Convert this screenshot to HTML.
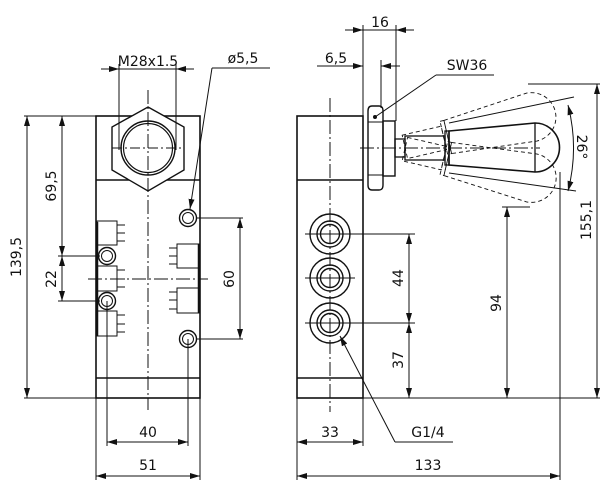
<!DOCTYPE html>
<html><head><meta charset="utf-8"><style>
html,body{margin:0;padding:0;background:#fff;}
svg{display:block;}
text{font-family:"DejaVu Sans","Liberation Sans",sans-serif;font-size:14px;fill:#111;}
</style></head><body>
<svg width="600" height="487" viewBox="0 0 600 487" xmlns="http://www.w3.org/2000/svg">
<defs>
<marker id="a" viewBox="0 0 10 6" refX="10" refY="3" markerWidth="10" markerHeight="6" orient="auto-start-reverse" markerUnits="userSpaceOnUse"><path d="M0,0L10,3L0,6z" fill="#111"/></marker>
</defs>
<g fill="none" stroke="#111" stroke-width="1">
<!-- LEFT VIEW body -->
<rect x="96" y="116" width="104" height="282" stroke-width="1.6"/>
<line x1="96" y1="180" x2="200" y2="180" stroke-width="1.4"/>
<line x1="96" y1="378" x2="200" y2="378" stroke-width="1.4"/>
<polygon points="148,107 184,127 184,170 148,191 112,170 112,127" stroke-width="1.4" fill="#fff"/>
<circle cx="148" cy="148" r="27" stroke-width="1.4"/>
<circle cx="148" cy="148" r="24.5" stroke-width="1.2"/>
<line x1="148" y1="90" x2="148" y2="410" stroke-dasharray="14,3,2,3"/>
<line x1="112" y1="148" x2="184" y2="148" stroke-dasharray="10,3,2,3"/>
<line x1="88" y1="279" x2="208" y2="279" stroke-dasharray="14,3,2,3"/>
<!-- small rects left -->
<rect x="97" y="221" width="20" height="24"/><rect x="97" y="266" width="20" height="25"/><rect x="97" y="311" width="20" height="25"/>
<path d="M117,225h8M117,233h8M117,241h8M117,270h8M117,279h8M117,287h8M117,315h8M117,324h8M117,332h8"/>
<rect x="177" y="244" width="22" height="24"/><rect x="177" y="288" width="22" height="25"/>
<path d="M169,248h8M169,256h8M169,264h8M169,292h8M169,300h8M169,309h8"/>
<line x1="97" y1="222" x2="97" y2="336" stroke-width="2.5"/>
<line x1="199" y1="244" x2="199" y2="313" stroke-width="2.5"/>
<!-- holes -->
<circle cx="188" cy="218" r="8.5" stroke-width="1.4"/><circle cx="188" cy="218" r="5.5"/>
<circle cx="188" cy="339" r="8.5" stroke-width="1.4"/><circle cx="188" cy="339" r="5.5"/>
<circle cx="107" cy="256" r="8.5" stroke-width="1.4" fill="#fff"/><circle cx="107" cy="256" r="5.5"/>
<circle cx="107" cy="301" r="8.5" stroke-width="1.4" fill="#fff"/><circle cx="107" cy="301" r="5.5"/>
<!-- left dims -->
<line x1="24" y1="116" x2="96" y2="116"/><line x1="24" y1="398" x2="96" y2="398"/>
<line x1="27" y1="116" x2="27" y2="398" marker-start="url(#a)" marker-end="url(#a)"/>
<line x1="62" y1="116" x2="62" y2="256" marker-start="url(#a)" marker-end="url(#a)"/>
<line x1="62" y1="256" x2="62" y2="301" marker-start="url(#a)" marker-end="url(#a)"/>
<line x1="58" y1="256" x2="100" y2="256"/><line x1="58" y1="301" x2="100" y2="301"/>
<line x1="196" y1="218" x2="243" y2="218"/><line x1="196" y1="339" x2="243" y2="339"/>
<line x1="240" y1="218" x2="240" y2="339" marker-start="url(#a)" marker-end="url(#a)"/>
<line x1="119" y1="64" x2="119" y2="150"/><line x1="176" y1="64" x2="176" y2="150"/>
<line x1="101" y1="69" x2="119" y2="69" marker-end="url(#a)"/><line x1="194" y1="69" x2="176" y2="69" marker-end="url(#a)"/>
<line x1="119" y1="69" x2="176" y2="69"/>
<line x1="270" y1="68" x2="212" y2="68"/><line x1="212" y1="68" x2="190" y2="209" marker-end="url(#a)"/>
<line x1="107" y1="301" x2="107" y2="446"/><line x1="188" y1="339" x2="188" y2="446"/>
<line x1="107" y1="442" x2="188" y2="442" marker-start="url(#a)" marker-end="url(#a)"/>
<line x1="96" y1="398" x2="96" y2="480"/><line x1="200" y1="398" x2="200" y2="480"/>
<line x1="96" y1="476" x2="200" y2="476" marker-start="url(#a)" marker-end="url(#a)"/>

<!-- RIGHT VIEW body -->
<rect x="297" y="116" width="66" height="282" stroke-width="1.6"/>
<line x1="297" y1="180" x2="363" y2="180" stroke-width="1.4"/>
<line x1="297" y1="378" x2="363" y2="378" stroke-width="1.4"/>
<line x1="330" y1="98" x2="330" y2="412" stroke-dasharray="14,3,2,3"/>
<g stroke-width="1.4">
<circle cx="330" cy="234" r="20"/><circle cx="330" cy="234" r="13"/><circle cx="330" cy="234" r="9.5"/>
<circle cx="330" cy="278" r="20"/><circle cx="330" cy="278" r="13"/><circle cx="330" cy="278" r="9.5"/>
<circle cx="330" cy="323" r="20"/><circle cx="330" cy="323" r="13"/><circle cx="330" cy="323" r="9.5"/>
</g>
<path d="M305,234h50M305,278h50M305,323h50"/>
<!-- nut -->
<path d="M372,106h7q4,0 4,5v74q0,5 -4,5h-7q-4,0 -4,-5v-74q0,-5 4,-5z" stroke-width="1.4"/>
<path d="M368,122h15M368,175h15" />
<rect x="383" y="121" width="12" height="55" stroke-width="1.4"/>
<rect x="395" y="139" width="10" height="18" stroke-width="1.3"/>
<rect x="405" y="136" width="40" height="24" stroke-width="1.3"/>
<rect x="445" y="131" width="4" height="34" stroke-width="1.3"/>
<path d="M449,131L535,123A24.5,24.5 0 0 1 535,172L449,165z" stroke-width="1.6"/>
<line x1="535" y1="123" x2="535" y2="172" stroke-width="1.3"/>
<line x1="360" y1="148" x2="540" y2="148" stroke-dasharray="14,3,2,3"/>
<!-- dashed tilted handles -->
<g stroke-dasharray="4,3" stroke-width="0.9">
<g transform="rotate(-13 400 148)"><rect x="405" y="136" width="40" height="24"/><rect x="445" y="131" width="4" height="34"/><path d="M449,131L535,123A24.5,24.5 0 0 1 535,172L449,165z"/></g>
<g transform="rotate(13 400 148)"><rect x="405" y="136" width="40" height="24"/><rect x="445" y="131" width="4" height="34"/><path d="M449,131L535,123A24.5,24.5 0 0 1 535,172L449,165z"/></g>
</g>
<!-- 26 deg -->
<line x1="449" y1="123" x2="574" y2="97" transform="rotate(0)"/>
<line x1="449" y1="173" x2="576" y2="191"/>
<path d="M568,105A172,172 0 0 1 568,191" marker-start="url(#a)" marker-end="url(#a)"/>
<!-- right dims -->
<line x1="363" y1="25" x2="363" y2="116"/><line x1="396" y1="25" x2="396" y2="121"/>
<line x1="345" y1="30" x2="363" y2="30" marker-end="url(#a)"/><line x1="414" y1="30" x2="396" y2="30" marker-end="url(#a)"/><line x1="363" y1="30" x2="396" y2="30"/>
<line x1="381" y1="60" x2="381" y2="108"/>
<line x1="317" y1="66" x2="363" y2="66" marker-end="url(#a)"/><line x1="400" y1="66" x2="381" y2="66" marker-end="url(#a)"/>
<line x1="494" y1="75" x2="436" y2="75"/><line x1="436" y1="75" x2="375" y2="117"/>
<circle cx="375" cy="117" r="1.5" fill="#111"/>
<line x1="345" y1="234" x2="415" y2="234"/><line x1="345" y1="323" x2="415" y2="323"/>
<line x1="409" y1="234" x2="409" y2="323" marker-start="url(#a)" marker-end="url(#a)"/>
<line x1="409" y1="323" x2="409" y2="398" marker-start="url(#a)" marker-end="url(#a)"/>
<line x1="297" y1="398" x2="600" y2="398"/>
<line x1="502" y1="207" x2="530" y2="207"/>
<line x1="507" y1="207" x2="507" y2="398" marker-start="url(#a)" marker-end="url(#a)"/>
<line x1="528" y1="84" x2="600" y2="84"/>
<line x1="597" y1="84" x2="597" y2="398" marker-start="url(#a)" marker-end="url(#a)"/>
<line x1="297" y1="398" x2="297" y2="480"/><line x1="363" y1="398" x2="363" y2="446"/>
<line x1="297" y1="442" x2="363" y2="442" marker-start="url(#a)" marker-end="url(#a)"/>
<line x1="560" y1="172" x2="560" y2="480"/>
<line x1="297" y1="476" x2="560" y2="476" marker-start="url(#a)" marker-end="url(#a)"/>
<line x1="453" y1="442" x2="395" y2="442"/><line x1="395" y1="442" x2="340" y2="336" marker-end="url(#a)"/>
</g>
<!-- labels -->
<text x="148" y="66" text-anchor="middle">M28x1.5</text>
<text x="243" y="63" text-anchor="middle">ø5,5</text>
<text transform="translate(21,257) rotate(-90)" text-anchor="middle">139,5</text>
<text transform="translate(56,186) rotate(-90)" text-anchor="middle">69,5</text>
<text transform="translate(56,279) rotate(-90)" text-anchor="middle">22</text>
<text transform="translate(234,279) rotate(-90)" text-anchor="middle">60</text>
<text x="148" y="437" text-anchor="middle">40</text>
<text x="148" y="470" text-anchor="middle">51</text>
<text x="380" y="27" text-anchor="middle">16</text>
<text x="336" y="63" text-anchor="middle">6,5</text>
<text x="467" y="70" text-anchor="middle">SW36</text>
<text transform="translate(403,278) rotate(-90)" text-anchor="middle">44</text>
<text transform="translate(403,360) rotate(-90)" text-anchor="middle">37</text>
<text transform="translate(501,303) rotate(-90)" text-anchor="middle">94</text>
<text transform="translate(591,220) rotate(-90)" text-anchor="middle">155,1</text>
<text transform="translate(577,147) rotate(90)" text-anchor="middle">26°</text>
<text x="330" y="437" text-anchor="middle">33</text>
<text x="428" y="470" text-anchor="middle">133</text>
<text x="428" y="437" text-anchor="middle">G1/4</text>
</svg>
</body></html>
